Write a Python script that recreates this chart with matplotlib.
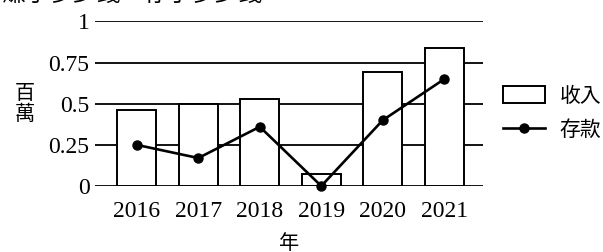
import matplotlib
matplotlib.use("Agg")
import matplotlib.pyplot as plt
import numpy as np

years = ["2016", "2017", "2018", "2019", "2020", "2021"]
income = [0.46, 0.50, 0.53, 0.07, 0.69, 0.84]
savings = [0.25, 0.17, 0.36, 0.0, 0.40, 0.65]
yticks = [0, 0.25, 0.5, 0.75, 1]
ytick_labels = ["0", "0.25", "0.5", "0.75", "1"]

cjk = ["Noto Sans CJK TC", "DejaVu Sans"]
serif = ["Liberation Serif", "DejaVu Serif"]

fig = plt.figure(figsize=(6.03, 2.52), dpi=100)
ax = fig.add_axes([95/603, 66/252, 388/603, 164.5/252])

x = np.arange(len(years))
for y in yticks:
    ax.axhline(y, color="black", lw=1.3, zorder=0)

bars = ax.bar(x, income, width=0.63, facecolor="white", edgecolor="black",
              linewidth=1.4, zorder=2, label="收入")
line, = ax.plot(x, savings, color="black", lw=1.9, marker="o", markersize=6.5,
                zorder=3, clip_on=False, label="存款")

ax.set_xlim(-0.68, 5.63)
ax.set_ylim(0, 1)
for s in ax.spines.values():
    s.set_visible(False)
ax.set_xticks(x)
ax.set_xticklabels(years, fontfamily=serif, fontsize=17)
ax.set_yticks(yticks)
ax.set_yticklabels(ytick_labels, fontfamily=serif, fontsize=17)
ax.tick_params(axis="both", length=0)
ax.tick_params(axis="y", pad=4)
ax.tick_params(axis="x", pad=11)

ax.set_xlabel("年", fontfamily=cjk, fontsize=14.5, labelpad=8)
fig.text(25/603, 1 - 104/252, "百\n萬", fontfamily=cjk, fontsize=14.5,
         ha="center", va="center", linespacing=1.0)

leg = ax.legend([bars, line], ["收入", "存款"], loc="center left",
                bbox_to_anchor=(503/603, 1 - 113/252),
                bbox_transform=fig.transFigure, frameon=False,
                prop={"family": cjk, "size": 15}, handlelength=2.0,
                handleheight=0.85, handletextpad=0.7, labelspacing=0.6,
                borderpad=0, borderaxespad=0)

fig.text(262/603, 1 + 6/252, "每年賺了多少錢　存了多少錢", fontfamily=cjk,
         fontsize=17, ha="right", va="center")

fig.savefig("out.png", dpi=100)
